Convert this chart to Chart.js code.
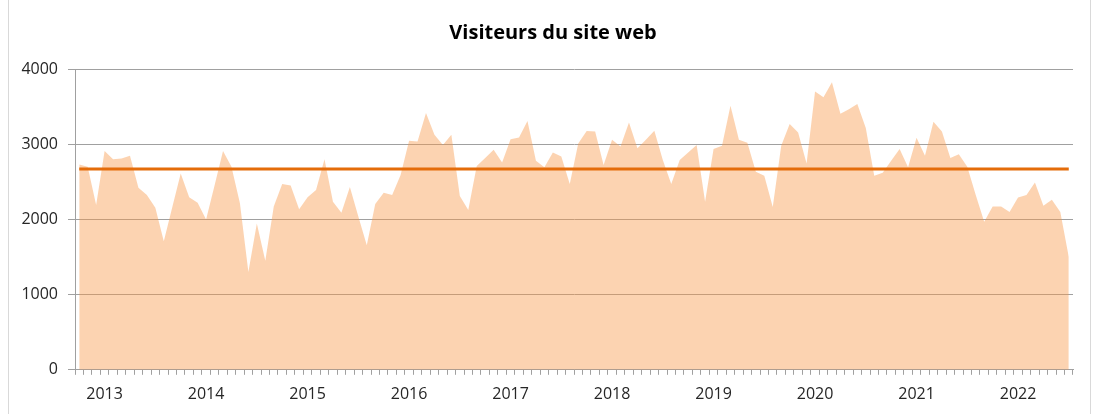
<!DOCTYPE html>
<html lang="fr">
<head>
<meta charset="utf-8">
<title>Visiteurs du site web</title>
<script src="https://cdn.jsdelivr.net/npm/chart.js@4.4.1/dist/chart.umd.min.js"></script>
<style>
    html, body { margin: 0; padding: 0; background: #ffffff; }
    #wrap { position: relative; width: 1096px; height: 414px; overflow: hidden; }
    #frame { position: absolute; left: 8px; top: -2px; width: 1081px; height: 420px; border: 1px solid #d9d9d9; }
    canvas { position: absolute; left: 0; top: 0; }
</style>
</head>
<body>
<div id="wrap">
    <div id="frame"></div>
    <canvas id="chart" width="1096" height="414"></canvas>
</div>
<script>
// Data (monthly, Oct 2012 -> Jul 2022)
const START_YEAR = 2012;
const START_MONTH = 10;
const YEAR_LABELS = ["2013", "2014", "2015", "2016", "2017", "2018", "2019", "2020", "2021", "2022"];
const VISITORS = [
    2730, 2700, 2190,
    2910, 2800, 2810, 2845, 2420, 2325, 2155, 1710, 2160, 2610, 2295, 2220,
    2000, 2450, 2910, 2700, 2215, 1300, 1945, 1450, 2170, 2470, 2450, 2135,
    2295, 2390, 2800, 2235, 2090, 2430, 2040, 1655, 2205, 2355, 2325, 2590,
    3045, 3035, 3415, 3125, 2990, 3125, 2310, 2125, 2710, 2815, 2925, 2755,
    3065, 3090, 3310, 2780, 2695, 2890, 2835, 2470, 3010, 3175, 3170, 2725,
    3060, 2970, 3290, 2945, 3060, 3180, 2790, 2470, 2790, 2890, 2990, 2235,
    2935, 2980, 3510, 3060, 3020, 2635, 2580, 2165, 2980, 3270, 3155, 2745,
    3700, 3625, 3825, 3405, 3465, 3535, 3215, 2580, 2620, 2780, 2935, 2695,
    3085, 2845, 3300, 3170, 2815, 2865, 2700, 2325, 1970, 2170, 2170, 2100,
    2290, 2325, 2490, 2180, 2260, 2100, 1500
];
const AVERAGE = 2670;
const Y_TICKS = [0, 1000, 2000, 3000, 4000];

// Month categories built from the start date
const months = [];
for (let i = 0; i < VISITORS.length; i++) {
    const m = (START_MONTH - 1 + i) % 12 + 1;
    const y = START_YEAR + Math.floor((START_MONTH - 1 + i) / 12);
    months.push(y + "-" + String(m).padStart(2, "0"));
}

const FONT = "'Open Sans', 'DejaVu Sans', sans-serif";
const GRID = "#a0a0a0";

// Nudge the title box so the title sits a bit right of the canvas centre
const titleShift = {
    id: "titleShift",
    afterLayout(chart) {
        if (chart.titleBlock) chart.titleBlock.left += 18;
    },
};

const ctx = document.getElementById("chart").getContext("2d");
new Chart(ctx, {
    type: "line",
    data: {
        labels: months,
        datasets: [
            {
                label: "Moyenne",
                data: months.map(() => AVERAGE),
                borderColor: "#e46c0a",
                borderWidth: 3,
                pointRadius: 0,
                fill: false,
                order: 0,
            },
            {
                label: "Visiteurs",
                data: VISITORS,
                borderWidth: 0,
                borderColor: "rgba(0,0,0,0)",
                backgroundColor: "rgba(247,150,70,0.42)",
                pointRadius: 0,
                tension: 0,
                fill: "origin",
                order: 1,
            },
        ],
    },
    options: {
        responsive: false,
        animation: false,
        layout: { padding: { left: 15, right: 23, top: 0, bottom: 0 } },
        plugins: {
            legend: { display: false },
            tooltip: { enabled: false },
            title: {
                display: true,
                text: "Visiteurs du site web",
                color: "#000000",
                font: { family: FONT, size: 20, weight: "bold" },
                padding: { top: 21, bottom: 24 },
            },
        },
        scales: {
            x: {
                offset: true,
                grid: {
                    offset: true,
                    drawOnChartArea: false,
                    drawTicks: true,
                    tickLength: 5,
                    color: GRID,
                },
                border: { display: true, color: GRID },
                ticks: {
                    autoSkip: false,
                    maxRotation: 0,
                    padding: 10,
                    color: "#262626",
                    font: { family: FONT, size: 16 },
                    callback: function (value, index) {
                        const label = months[index];
                        const year = label.slice(0, 4);
                        return label.endsWith("-01") && YEAR_LABELS.includes(year) ? year : "";
                    },
                },
            },
            y: {
                min: Y_TICKS[0],
                max: Y_TICKS[Y_TICKS.length - 1],
                afterBuildTicks: (axis) => { axis.ticks = Y_TICKS.map(v => ({ value: v })); },
                afterFit: (axis) => { axis.width = 60; },
                grid: { color: GRID, tickLength: 7 },
                border: { display: true, color: GRID },
                ticks: {
                    padding: 10,
                    color: "#262626",
                    font: { family: FONT, size: 16 },
                    callback: (value) => String(value),
                },
            },
        },
    },
    plugins: [titleShift],
});
</script>
</body>
</html>
